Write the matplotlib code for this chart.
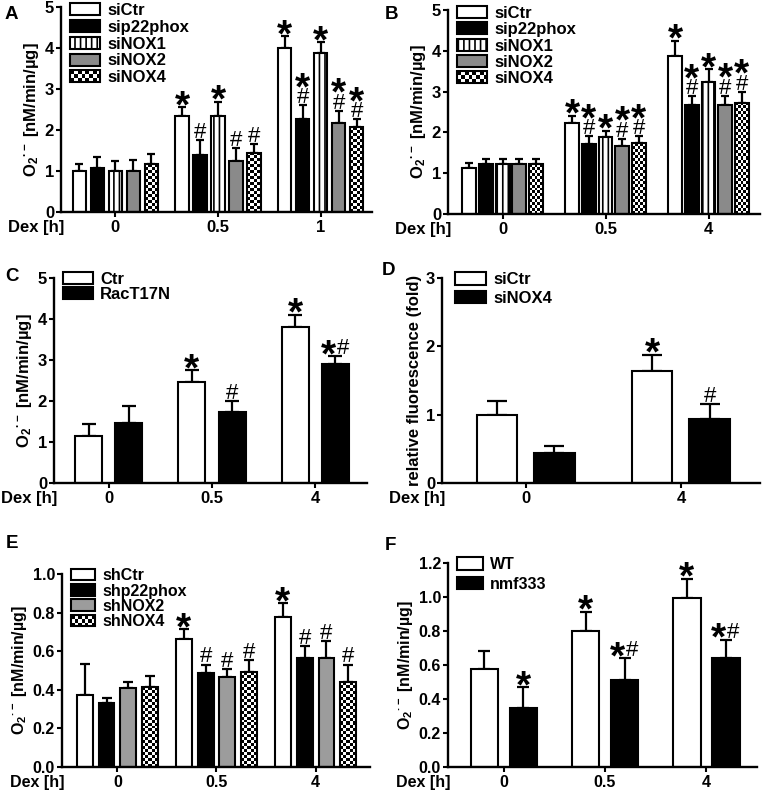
import matplotlib.pyplot as plt
import numpy as np
from matplotlib.legend_handler import HandlerBase
from matplotlib.patches import Rectangle

plt.rcParams['font.family'] = ['Liberation Sans', 'DejaVu Sans']
plt.rcParams['font.weight'] = 'bold'
plt.rcParams['axes.labelweight'] = 'bold'
plt.rcParams['hatch.linewidth'] = 1.2
plt.rcParams['mathtext.fontset'] = 'custom'
plt.rcParams['mathtext.rm'] = 'Liberation Sans:bold'
plt.rcParams['mathtext.it'] = 'Liberation Sans:bold'
plt.rcParams['mathtext.bf'] = 'Liberation Sans:bold'
plt.rcParams['mathtext.default'] = 'regular'

# ---- data ----
# A: siRNA, Dex 0 / 0.5 / 1 h
a_times = ['0', '0.5', '1']
a_names = ['siCtr', 'sip22phox', 'siNOX1', 'siNOX2', 'siNOX4']
a_vals = [[1.00, 2.34, 3.99], [1.08, 1.39, 2.28], [1.00, 2.34, 3.89],
          [1.00, 1.25, 2.16], [1.16, 1.45, 2.07]]
a_errs = [[0.17, 0.21, 0.30], [0.26, 0.37, 0.32], [0.25, 0.35, 0.25],
          [0.26, 0.32, 0.30], [0.25, 0.21, 0.19]]
a_marks = [['', '*', '*'], ['', '#', '*#'], ['', '*', '*'],
           ['', '#', '*#'], ['', '#', '*#']]

# B: siRNA, Dex 0 / 0.5 / 4 h
b_times = ['0', '0.5', '4']
b_names = ['siCtr', 'sip22phox', 'siNOX1', 'siNOX2', 'siNOX4']
b_vals = [[1.12, 2.23, 3.88], [1.22, 1.72, 2.68], [1.22, 1.88, 3.24],
          [1.23, 1.67, 2.68], [1.22, 1.73, 2.73]]
b_errs = [[0.13, 0.18, 0.37], [0.13, 0.18, 0.20], [0.14, 0.16, 0.31],
          [0.13, 0.17, 0.22], [0.12, 0.17, 0.26]]
b_marks = [['', '*', '*'], ['', '*#', '*#'], ['', '*', '*'],
           ['', '*#', '*#'], ['', '*#', '*#']]

# C: RacT17N
c_times = ['0', '0.5', '4']
c_names = ['Ctr', 'RacT17N']
c_vals = [[1.15, 2.46, 3.80], [1.46, 1.72, 2.90]]
c_errs = [[0.29, 0.29, 0.30], [0.43, 0.27, 0.19]]
c_marks = [['', '*', '*'], ['', '#', '*#']]

# D: relative fluorescence
d_times = ['0', '4']
d_names = ['siCtr', 'siNOX4']
d_vals = [[1.00, 1.64], [0.44, 0.93]]
d_errs = [[0.20, 0.24], [0.10, 0.22]]
d_marks = [['', '*'], ['', '#']]

# E: shRNA
e_times = ['0', '0.5', '4']
e_names = ['shCtr', 'shp22phox', 'shNOX2', 'shNOX4']
e_vals = [[0.375, 0.663, 0.778], [0.334, 0.486, 0.566],
          [0.408, 0.465, 0.566], [0.412, 0.490, 0.438]]
e_errs = [[0.160, 0.052, 0.072], [0.026, 0.045, 0.062],
          [0.035, 0.042, 0.086], [0.058, 0.065, 0.093]]
e_marks = [['', '*', '*'], ['', '#', '#'], ['', '#', '#'], ['', '#', '#']]

# F: WT vs nmf333
f_times = ['0', '0.5', '4']
f_names = ['WT', 'nmf333']
f_vals = [[0.576, 0.798, 0.992], [0.347, 0.510, 0.641]]
f_errs = [[0.106, 0.116, 0.116], [0.122, 0.131, 0.108]]
f_marks = [['', '*', '*'], ['*', '*#', '*#']]

# ---- styles ----
WHITE = dict(fc='white')
BLACK = dict(fc='black')
STRIPES = dict(fc='white', hatch='|||')
GRAY = dict(fc='#8a8a8a')
GRAY_E = dict(fc='#9c9c9c')
CHECKER = dict(fc='none', checker=True)

O2_LABEL = 'O$_2$$^{·-}$ [nM/min/µg]'
STAR_FS = 28
HASH_FS = 16
STAR_BOTTOM = 0.33   # ink bottom of '*' above baseline, in em


class HandlerChecker(HandlerBase):
    """Legend key drawn as a small black/white checkerboard."""

    def create_artists(self, legend, orig_handle, xdescent, ydescent,
                       width, height, fontsize, trans):
        arts = []
        nx = max(1, int(round(width / 2.6)))
        ny = max(1, int(round(height / 2.6)))
        cw, ch = width / nx, height / ny
        for i in range(nx):
            for j in range(ny):
                if (i + j) % 2 == 0:
                    arts.append(Rectangle((-xdescent + i * cw, -ydescent + j * ch),
                                          cw, ch, facecolor='black',
                                          edgecolor='none', transform=trans))
        arts.append(Rectangle((-xdescent, -ydescent), width, height,
                              facecolor='none', edgecolor='black',
                              linewidth=1.5, transform=trans))
        return arts


def checker_fill(ax, bar, cell_px=3.0):
    x0, y0 = bar.get_x(), bar.get_y()
    w, h = bar.get_width(), bar.get_height()
    p0 = ax.transData.transform((x0, y0))
    p1 = ax.transData.transform((x0 + w, y0 + h))
    nx = max(1, int(round((p1[0] - p0[0]) / cell_px)))
    ny = max(1, int(round((p1[1] - p0[1]) / cell_px)))
    board = (np.indices((ny, nx)).sum(axis=0) % 2).astype(float)
    im = ax.imshow(board, cmap='gray', vmin=0, vmax=1, origin='lower',
                   extent=(x0, x0 + w, y0, y0 + h), interpolation='nearest',
                   aspect='auto', zorder=2)
    im.set_clip_path(bar)


def put_marks(ax, x, y, m, stacked):
    if not m:
        return
    star_dy = -STAR_BOTTOM * STAR_FS + 2.0
    hash_dy = 1.5
    hash_h = 0.70 * HASH_FS
    kw = dict(xycoords='data', textcoords='offset points', ha='center',
              va='baseline', color='black')
    hkw = dict(kw, fontsize=HASH_FS, fontweight='normal')
    if m == '*':
        ax.annotate('*', (x, y), xytext=(0, star_dy), fontsize=STAR_FS, **kw)
    elif m == '#':
        ax.annotate('#', (x, y), xytext=(0, hash_dy), **hkw)
    elif stacked:
        ax.annotate('#', (x, y), xytext=(0, hash_dy), **hkw)
        ax.annotate('*', (x, y),
                    xytext=(0, hash_dy + hash_h + 1.0 - STAR_BOTTOM * STAR_FS),
                    fontsize=STAR_FS, **kw)
    else:
        ax.annotate('*', (x, y), xytext=(-5, star_dy), fontsize=STAR_FS, **kw)
        ax.annotate('#', (x, y), xytext=(5.5, hash_dy), **hkw)


def draw_panel(ax, times, names, styles, vals, errs, marks, ytop, ystep, yfmt,
               pitch, width, capsize, stacked, leg, fs=12, ylabel=O2_LABEL,
               xpad=(0.53, 0.5)):
    n = len(names)
    xs = np.arange(len(times))
    ax.set_xlim(-xpad[0], len(times) - 1 + xpad[1])
    ax.set_ylim(0, ytop)
    containers = []
    checker_bars = []
    for i, name in enumerate(names):
        x = xs + (i - (n - 1) / 2) * pitch
        st = styles[i]
        ax.errorbar(x, vals[i], yerr=[np.zeros(len(times)), errs[i]],
                    fmt='none', ecolor='black', elinewidth=1.6,
                    capsize=capsize, capthick=1.6, zorder=1)
        bc = ax.bar(x, vals[i], width, color=st['fc'], edgecolor='black',
                    linewidth=1.5, hatch=st.get('hatch'), label=name,
                    zorder=3 if st.get('checker') else 2)
        containers.append(bc)
        if st.get('checker'):
            checker_bars.extend(bc.patches)
        for xi, v, e, m in zip(x, vals[i], errs[i], marks[i]):
            put_marks(ax, xi, v + e, m, stacked)

    for bar in checker_bars:
        checker_fill(ax, bar)
    ax.set_xlim(-xpad[0], len(times) - 1 + xpad[1])
    ax.set_ylim(0, ytop)

    ticks = np.arange(0, ytop + ystep / 2, ystep)
    ax.set_yticks(ticks)
    ax.set_yticklabels([yfmt.format(t) for t in ticks])
    ax.set_xticks(xs)
    ax.set_xticklabels(times)
    for s in ['top', 'right']:
        ax.spines[s].set_visible(False)
    for s in ['left', 'bottom']:
        ax.spines[s].set_linewidth(1.7)
    ax.tick_params(axis='both', width=1.5, length=3.5, pad=1.5, labelsize=fs)
    ax.tick_params(axis='x', pad=2.5)
    ax.set_ylabel(ylabel, fontsize=fs, labelpad=3)
    ax.annotate('Dex [h]', (0, 0), xycoords='axes fraction',
                xytext=(2, -6), textcoords='offset points',
                ha='right', va='top', fontsize=fs)
    hmap = {c: HandlerChecker() for c, st in zip(containers, styles)
            if st.get('checker')}
    ax.legend(containers, names, handler_map=hmap, loc='upper left',
              bbox_to_anchor=leg['anchor'], frameon=False,
              borderaxespad=0, borderpad=0, handlelength=leg['hl'],
              handleheight=leg['hh'], labelspacing=leg['ls'],
              handletextpad=0.45, fontsize=fs)


W, H = 765, 791
fig = plt.figure(figsize=(W / 100, H / 100), dpi=100)


def add_ax(l, r, t, b):
    return fig.add_axes([l / W, 1 - b / H, (r - l) / W, (b - t) / H])


si5 = [WHITE, BLACK, STRIPES, GRAY, CHECKER]

axA = add_ax(61, 372, 7, 212)
draw_panel(axA, a_times, a_names, si5, a_vals, a_errs, a_marks, 5, 1, '{:.0f}',
           pitch=0.175, width=0.13, capsize=3, stacked=True,
           leg=dict(anchor=(0.03, 1.02), hl=1.8, hh=0.72, ls=0.11))

axB = add_ax(448, 760, 10, 214)
draw_panel(axB, b_times, b_names, si5, b_vals, b_errs, b_marks, 5, 1, '{:.0f}',
           pitch=0.162, width=0.135, capsize=3, stacked=True,
           leg=dict(anchor=(0.03, 1.02), hl=1.8, hh=0.72, ls=0.08))

axC = add_ax(54, 367, 278, 483)
draw_panel(axC, c_times, c_names, [WHITE, BLACK], c_vals, c_errs, c_marks,
           5, 1, '{:.0f}', pitch=0.39, width=0.26, capsize=5, stacked=False,
           leg=dict(anchor=(0.03, 1.03), hl=1.75, hh=0.75, ls=0.0))

axD = add_ax(442, 760, 278, 483)
draw_panel(axD, d_times, d_names, [WHITE, BLACK], d_vals, d_errs, d_marks,
           3, 1, '{:.0f}', pitch=0.37, width=0.26, capsize=7, stacked=False,
           leg=dict(anchor=(0.04, 1.03), hl=1.85, hh=0.8, ls=0.22),
           ylabel='relative fluorescence (fold)', xpad=(0.54, 0.51))

axE = add_ax(62, 370, 574, 767)
draw_panel(axE, e_times, e_names, [WHITE, BLACK, GRAY_E, CHECKER], e_vals,
           e_errs, e_marks, 1.0, 0.2, '{:.1f}', pitch=0.22, width=0.16,
           capsize=3.5, stacked=False, fs=11.5,
           leg=dict(anchor=(0.03, 1.03), hl=1.5, hh=0.75, ls=0.02),
           xpad=(0.56, 0.55))

axF = add_ax(448, 757, 563, 767)
draw_panel(axF, f_times, f_names, [WHITE, BLACK], f_vals, f_errs, f_marks,
           1.2, 0.2, '{:.1f}', pitch=0.385, width=0.27, capsize=4.5,
           stacked=False, fs=11.5,
           leg=dict(anchor=(0.03, 1.03), hl=1.6, hh=0.85, ls=0.29),
           xpad=(0.55, 0.5))

for lab, x, y in [('A', 5, 6), ('B', 385, 6), ('C', 5, 268), ('D', 382, 262),
                  ('E', 6, 535), ('F', 385, 537)]:
    fig.text(x / W, 1 - y / H, lab, fontsize=13.5, fontweight='bold',
             ha='left', va='top')

fig.savefig('out.png', dpi=100)
